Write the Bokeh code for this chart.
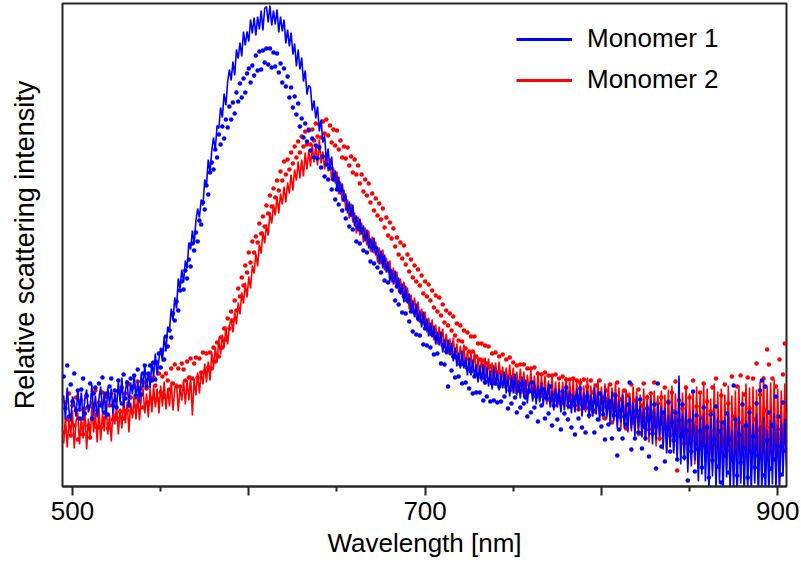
from bokeh.plotting import figure
from bokeh.models import Range1d, Legend, LegendItem, FixedTicker
from bokeh.embed import file_html
from bokeh.resources import INLINE

# Spectra sampled every 1 nm starting at 495 nm (relative intensity, a.u.)
WL_START = 495
WL_STEP = 1

m1_line = [
    91, 67, 99, 76, 65, 90, 84, 70, 97, 75,
    94, 66, 87, 97, 74, 80, 102, 70, 91, 69,
    88, 100, 74, 94, 68, 99, 82, 98, 73, 94,
    79, 105, 84, 109, 79, 96, 106, 79, 104, 92,
    112, 87, 106, 84, 113, 99, 121, 98, 114, 98,
    125, 110, 133, 111, 127, 139, 125, 150, 135, 160,
    156, 178, 166, 189, 178, 208, 198, 217, 204, 226,
    218, 244, 237, 256, 242, 266, 278, 269, 287, 281,
    307, 301, 327, 314, 336, 349, 337, 361, 358, 379,
    369, 393, 381, 405, 417, 406, 425, 411, 437, 428,
    444, 430, 455, 441, 455, 445, 467, 453, 469, 451,
    470, 457, 476, 456, 478, 480, 464, 481, 461, 476,
    462, 477, 454, 470, 455, 467, 443, 457, 440, 454,
    432, 443, 420, 437, 417, 429, 405, 416, 392, 401,
    399, 376, 386, 368, 380, 355, 367, 344, 351, 325,
    338, 317, 330, 307, 316, 296, 310, 292, 303, 285,
    293, 273, 285, 270, 282, 260, 271, 255, 268, 252,
    261, 245, 257, 238, 248, 234, 249, 231, 240, 222,
    236, 218, 232, 214, 225, 205, 217, 202, 216, 199,
    209, 192, 203, 184, 201, 183, 193, 175, 186, 169,
    183, 165, 176, 159, 175, 157, 168, 150, 164, 149,
    161, 142, 155, 141, 155, 134, 147, 132, 147, 131,
    144, 125, 139, 120, 134, 118, 136, 118, 129, 111,
    129, 111, 127, 110, 122, 104, 121, 105, 123, 102,
    120, 100, 116, 97, 120, 101, 115, 96, 113, 98,
    115, 93, 111, 90, 111, 93, 113, 91, 106, 88,
    110, 89, 107, 83, 102, 106, 85, 103, 82, 101,
    84, 104, 81, 99, 85, 103, 79, 96, 76, 98,
    79, 98, 74, 95, 76, 100, 79, 96, 73, 93,
    74, 98, 76, 99, 70, 94, 78, 96, 68, 92,
    70, 99, 72, 94, 65, 95, 73, 97, 68, 89,
    63, 95, 65, 90, 58, 86, 64, 92, 58, 82,
    55, 90, 57, 84, 50, 90, 58, 81, 49, 78,
    46, 83, 51, 88, 42, 78, 46, 83, 50, 80,
    37, 79, 33, 72, 39, 81, 33, 71, 26, 111,
    22, 73, 26, 78, 14, 66, 20, 77, 26, 61,
    5, 69, 12, 73, 5, 62, -4, 69, 10, 75,
    -3, 69, 3, 64, -8, 69, 9, 74, -4, 57,
    -3, 65, -10, 70, 3, 61, -9, 66, -4, 71,
    -9, 63, 3, 73, -14, 61, -4, 69, -11, 57,
    -7, 66, 2, 73, -3, 62, -6, 65, 10, 68,
    20,
]

m1_dots = [
    110, 78, 121, 70, 102, 85, 113, 76, 96, 68,
    97, 108, 73, 91, 80, 103, 68, 93, 99, 76,
    103, 81, 109, 74, 93, 72, 100, 108, 81, 96,
    79, 106, 95, 83, 112, 88, 104, 81, 108, 99,
    111, 91, 117, 97, 92, 113, 121, 100, 113, 121,
    106, 124, 107, 124, 133, 119, 136, 127, 150, 140,
    156, 149, 173, 166, 185, 176, 196, 205, 197, 216,
    208, 227, 220, 243, 236, 254, 245, 266, 262, 284,
    277, 301, 292, 314, 324, 317, 337, 329, 352, 342,
    360, 348, 367, 359, 380, 367, 384, 373, 394, 385,
    403, 389, 408, 394, 413, 418, 404, 421, 411, 431,
    416, 435, 417, 436, 424, 438, 422, 438, 419, 434,
    420, 433, 414, 423, 404, 418, 400, 410, 389, 399,
    379, 390, 372, 383, 360, 368, 349, 363, 345, 356,
    336, 348, 329, 341, 328, 339, 319, 330, 310, 322,
    307, 318, 297, 307, 287, 297, 282, 296, 276, 287,
    268, 278, 260, 272, 257, 267, 245, 259, 243, 256,
    236, 250, 234, 246, 225, 239, 223, 238, 219, 229,
    214, 228, 206, 220, 204, 216, 196, 208, 186, 200,
    182, 195, 174, 190, 173, 186, 165, 175, 155, 174,
    152, 168, 151, 165, 142, 158, 141, 158, 139, 152,
    132, 149, 133, 147, 123, 141, 122, 135, 100, 137,
    116, 130, 109, 130, 110, 122, 103, 122, 104, 118,
    98, 115, 93, 110, 94, 112, 94, 109, 86, 104,
    90, 106, 85, 103, 86, 103, 84, 100, 85, 103,
    90, 104, 78, 96, 83, 104, 89, 74, 96, 79,
    103, 83, 89, 70, 95, 74, 104, 79, 90, 65,
    94, 81, 97, 68, 88, 73, 100, 61, 81, 92,
    67, 87, 57, 95, 73, 99, 67, 80, 59, 86,
    52, 90, 68, 98, 59, 79, 54, 90, 71, 84,
    77, 54, 84, 67, 93, 60, 72, 47, 79, 62,
    85, 48, 71, 91, 31, 57, 76, 48, 70, 62,
    82, 104, 37, 69, 48, 76, 54, 87, 38, 60,
    48, 78, 30, 70, 53, 82, 18, 103, 63, 40,
    74, 25, 59, 84, 35, 64, 46, 74, 27, 66,
    50, 82, 29, 56, 6, 66, 35, 95, 15, 71,
    37, 55, 19, 79, 40, 59, 9, 72, 26, 47,
    80, 20, 55, 4, 64, 31, 73, 14, 48, 27,
    101, 67, 11, 52, 24, 82, 38, 61, 9, 74,
    34, 50, 19, 83, 31, 96, 106, 11, 100, 46,
    74, 18, 61, 27, 90, 40, 70, 12, 84, 36,
    60,
]

m2_line = [
    43, 70, 39, 67, 52, 76, 38, 65, 74, 42,
    70, 48, 78, 37, 68, 47, 81, 54, 74, 44,
    79, 46, 73, 55, 86, 52, 72, 45, 79, 62,
    82, 52, 78, 58, 88, 63, 85, 54, 84, 68,
    92, 67, 91, 66, 89, 98, 73, 93, 69, 98,
    74, 101, 79, 98, 73, 101, 80, 105, 77, 98,
    80, 105, 76, 98, 103, 75, 100, 86, 106, 82,
    106, 86, 111, 71, 108, 91, 114, 93, 115, 102,
    123, 104, 125, 106, 134, 119, 139, 124, 148, 132,
    152, 139, 160, 142, 161, 168, 154, 174, 162, 184,
    172, 194, 183, 204, 189, 210, 198, 221, 213, 233,
    220, 242, 233, 255, 243, 262, 251, 274, 263, 282,
    271, 290, 273, 293, 282, 300, 284, 304, 293, 312,
    296, 317, 306, 325, 308, 327, 310, 334, 317, 336,
    320, 342, 324, 342, 321, 347, 323, 335, 317, 334,
    315, 328, 306, 319, 303, 315, 292, 305, 285, 297,
    276, 287, 268, 283, 264, 274, 253, 270, 251, 264,
    244, 259, 241, 256, 235, 250, 233, 245, 224, 239,
    222, 237, 216, 229, 214, 226, 204, 219, 202, 215,
    194, 208, 191, 205, 185, 199, 177, 192, 176, 189,
    169, 185, 164, 178, 161, 175, 154, 169, 151, 167,
    146, 162, 142, 160, 142, 158, 138, 153, 132, 148,
    131, 149, 127, 143, 123, 141, 124, 142, 119, 135,
    116, 134, 116, 135, 111, 129, 111, 129, 106, 129,
    108, 128, 105, 124, 102, 124, 105, 125, 102, 120,
    98, 119, 100, 122, 97, 119, 93, 115, 95, 118,
    93, 115, 89, 112, 93, 116, 88, 111, 86, 113,
    86, 110, 87, 111, 82, 106, 82, 110, 83, 105,
    79, 105, 76, 105, 81, 109, 77, 105, 79, 107,
    75, 105, 77, 108, 73, 101, 74, 109, 74, 101,
    70, 103, 73, 107, 71, 100, 67, 103, 72, 103,
    64, 99, 66, 104, 66, 99, 57, 97, 62, 97,
    54, 94, 55, 100, 57, 96, 50, 92, 52, 98,
    47, 92, 44, 95, 48, 96, 40, 91, 45, 96,
    40, 92, 35, 97, 40, 101, 36, 93, 31, 86,
    29, 94, 35, 101, 22, 93, 31, 96, 22, 100,
    18, 95, 21, 103, 23, 98, 13, 88, 17, 103,
    13, 95, 17, 98, 8, 92, 18, 101, 14, 91,
    10, 96, 21, 101, 7, 95, 15, 103, 20, 99,
    10, 100, 19, 97, 7, 105, 24, 110, 16, 100,
    10, 104, 22, 107, 17, 98, 6, 96, 21, 103,
    26,
]

m2_dots = [
    54, 84, 67, 93, 51, 81, 61, 89, 47, 77,
    86, 52, 78, 90, 61, 49, 83, 67, 96, 59,
    84, 59, 94, 68, 90, 58, 81, 93, 67, 86,
    68, 95, 75, 99, 68, 93, 76, 102, 89, 74,
    100, 80, 105, 85, 99, 79, 104, 98, 84, 109,
    88, 109, 101, 87, 113, 94, 110, 90, 113, 106,
    97, 118, 103, 122, 100, 118, 100, 123, 117, 106,
    125, 109, 128, 108, 123, 129, 109, 128, 114, 134,
    115, 133, 119, 134, 118, 139, 125, 144, 130, 149,
    139, 158, 147, 168, 158, 175, 166, 186, 176, 198,
    190, 209, 201, 221, 214, 234, 224, 245, 234, 250,
    244, 263, 253, 270, 260, 281, 273, 291, 280, 298,
    289, 306, 296, 315, 306, 325, 312, 327, 317, 334,
    323, 340, 329, 345, 334, 350, 340, 355, 342, 357,
    342, 357, 346, 363, 350, 362, 349, 365, 353, 367,
    351, 361, 344, 357, 341, 356, 337, 346, 329, 340,
    328, 339, 321, 330, 314, 327, 312, 321, 303, 312,
    295, 307, 291, 303, 284, 293, 276, 288, 271, 283,
    267, 278, 259, 269, 251, 264, 248, 258, 240, 249,
    232, 244, 228, 241, 222, 232, 215, 227, 209, 221,
    205, 217, 201, 211, 193, 205, 190, 202, 186, 196,
    179, 191, 175, 189, 171, 182, 164, 176, 161, 173,
    156, 170, 151, 163, 146, 161, 145, 156, 138, 154,
    135, 150, 135, 150, 130, 143, 127, 143, 126, 141,
    123, 140, 120, 133, 119, 134, 114, 130, 114, 132,
    111, 127, 108, 129, 109, 124, 103, 121, 104, 122,
    101, 122, 102, 118, 97, 118, 98, 119, 94, 113,
    93, 112, 90, 114, 93, 111, 86, 111, 90, 112,
    86, 108, 83, 110, 87, 107, 81, 107, 85, 108,
    81, 106, 77, 104, 82, 107, 78, 100, 79, 106,
    94, 75, 101, 83, 106, 77, 89, 68, 96, 83,
    102, 64, 92, 76, 104, 70, 87, 78, 96, 58,
    91, 80, 102, 64, 86, 70, 97, 53, 81, 103,
    66, 89, 57, 93, 74, 104, 60, 83, 48, 89,
    69, 99, 61, 85, 51, 94, 75, 105, 16, 86,
    54, 78, 43, 99, 64, 89, 46, 106, 60, 80,
    38, 94, 69, 103, 51, 85, 43, 75, 99, 56,
    108, 65, 40, 91, 59, 102, 36, 83, 51, 110,
    70, 46, 100, 64, 111, 42, 92, 59, 109, 78,
    41, 108, 67, 123, 57, 92, 52, 108, 76, 137,
    122, 59, 108, 50, 100, 70, 127, 57, 112, 143,
    70,
]

X_TICKS = [500, 600, 700, 800, 900]
X_MINOR_TICKS = [550, 650, 750, 850]
X_TICK_LABELS = {500: "500", 600: "", 700: "700", 800: "", 900: "900"}
SERIES_NAMES = ["Monomer 1", "Monomer 2"]
X_LABEL = "Wavelength [nm]"
Y_LABEL = "Relative scattering intensity"
BLUE = "#0000ff"
RED = "#ff0000"
FONT = "Liberation Sans"
INK = "#262626"


def wavelengths(values):
    return [WL_START + WL_STEP * i for i in range(len(values))]


p = figure(width=801, height=562, output_backend="svg", toolbar_location=None,
           x_range=Range1d(494.33, 904.99), y_range=Range1d(0, 483),
           min_border_left=62, min_border_right=15, min_border_top=3,
           min_border_bottom=76, background_fill_color="white",
           border_fill_color="white")

p.xgrid.visible = False
p.ygrid.visible = False
p.outline_line_color = INK
p.outline_line_width = 2

ax = p.xaxis[0]
ax.ticker = FixedTicker(ticks=X_TICKS, minor_ticks=X_MINOR_TICKS)
ax.major_label_overrides = X_TICK_LABELS
ax.axis_label = X_LABEL
ax.axis_label_text_font = FONT
ax.axis_label_text_font_size = "26px"
ax.axis_label_text_font_style = "normal"
ax.axis_label_text_color = "black"
ax.axis_label_standoff = 5
ax.major_label_text_font = FONT
ax.major_label_text_font_size = "26px"
ax.major_label_text_color = "black"
ax.major_label_standoff = 6
ax.axis_line_color = INK
ax.axis_line_width = 2
ax.major_tick_line_color = INK
ax.major_tick_line_width = 2
ax.major_tick_out = 9
ax.major_tick_in = 0
ax.minor_tick_line_color = INK
ax.minor_tick_line_width = 2
ax.minor_tick_out = 5
ax.minor_tick_in = 0

# y axis: no ticks or numbers, only the title
yax = p.yaxis[0]
yax.ticker = FixedTicker(ticks=[])
yax.axis_line_color = None
yax.major_tick_line_color = None
yax.minor_tick_line_color = None
yax.major_tick_out = 0
yax.minor_tick_out = 0
yax.major_label_standoff = 0
yax.axis_label = Y_LABEL
yax.axis_label_standoff = 23
yax.axis_label_text_font = FONT
yax.axis_label_text_font_size = "27px"
yax.axis_label_text_font_style = "normal"
yax.axis_label_text_color = "black"

p.line(wavelengths(m2_line), m2_line, line_color=RED, line_width=1.6)
p.scatter(wavelengths(m2_dots), m2_dots, size=4.5, fill_color=RED, line_color=None)
p.line(wavelengths(m1_line), m1_line, line_color=BLUE, line_width=1.6)
p.scatter(wavelengths(m1_dots), m1_dots, size=4.5, fill_color=BLUE, line_color=None)

# legend swatches (renderers holding a single NaN point, used only for the key)
NAN = float("nan")
key1 = p.line(x=[NAN], y=[NAN], line_color=BLUE, line_width=3)
key2 = p.line(x=[NAN], y=[NAN], line_color=RED, line_width=3)
legend = Legend(items=[LegendItem(label=SERIES_NAMES[0], renderers=[key1]),
                       LegendItem(label=SERIES_NAMES[1], renderers=[key2])],
                location=(454, 391), glyph_width=56, glyph_height=30,
                label_height=30, label_standoff=15, spacing=10, padding=0,
                margin=0, border_line_color=None, background_fill_alpha=0,
                label_text_font=FONT, label_text_font_size="26px",
                label_text_color="black")
p.add_layout(legend)

open("out.html", "w").write(file_html(p, INLINE))
